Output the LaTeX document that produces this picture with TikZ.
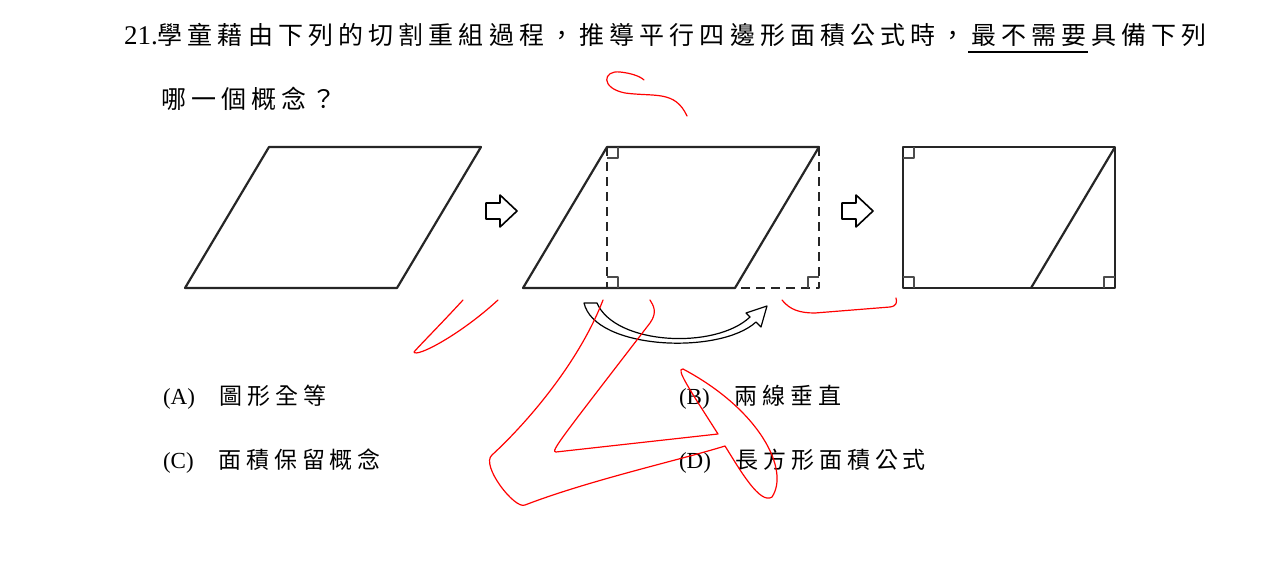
\documentclass[tikz,border=0pt]{standalone}
\usepackage{fontspec}
\setmainfont{Liberation Serif}
\newfontfamily\cjk[LetterSpace=20.5]{Noto Sans CJK TC}
\newfontfamily\cjkopt[LetterSpace=21]{Noto Sans CJK TC}
\begin{document}
\begin{tikzpicture}[x=1pt,y=-1pt,line width=2pt,line join=round]

\tikzset{
  shape line/.style={draw=black!85, line width=2.2pt},
  cut line/.style={draw=black!85, line width=2pt, dash pattern=on 9pt off 6pt},
  angle mark/.style={draw=black!70, line width=1.3pt},
  step arrow/.style={draw=black, line width=1.6pt, fill=white},
  scribble/.style={draw=red, line width=1.2pt, line cap=round},
  qtext/.style={anchor=west, font=\fontsize{25}{25}\selectfont, inner sep=0pt},
  otext/.style={anchor=west, font=\fontsize{23}{23}\selectfont, inner sep=0pt}
}

\useasboundingbox (0,0) rectangle (1274,575);

%% question
\node[qtext] (q1) at (123,35) {{\fontsize{27}{27}\selectfont 21.}{\cjk 學童藉由下列的切割重組過程，推導平行四邊形面積公式時，最不需要具備下列}};
\draw[line width=1.3pt] (968,52) -- (1088,52);
\node[qtext] (q2) at (160,99) {\cjk 哪一個概念？};

%% figure 1
\draw[shape line] (185,288) -- (397,288) -- (481,147) -- (269,147) -- cycle;
\draw[step arrow] (486,203) -- (500,203) -- (500,195) -- (517,211) -- (500,227) -- (500,219) -- (486,219) -- cycle;

%% figure 2
\draw[cut line] (607,147) -- (607,288);
\draw[cut line] (819,147) -- (819,288) -- (735,288);
\draw[shape line] (523,288) -- (735,288) -- (819,147) -- (607,147) -- cycle;
\draw[angle mark] (607,158) -| (618,147);
\draw[angle mark] (607,277) -| (618,288);
\draw[angle mark] (819,277) -| (808,288);
\draw[step arrow] (842,203) -- (856,203) -- (856,195) -- (873,211) -- (856,227) -- (856,219) -- (842,219) -- cycle;

%% moving piece
\draw[draw=black, line width=1.2pt, fill=white]
  (584,303) -- (597,303) .. controls (615,345) and (715,350) .. (750,317)
  -- (746,313) -- (767,306) -- (761,327) -- (756,322)
  .. controls (720,355) and (595,350) .. cycle;

%% figure 3
\draw[shape line] (903,147) rectangle (1115,288);
\draw[shape line] (1031,288) -- (1115,147);
\draw[angle mark] (903,158) -| (914,147);
\draw[angle mark] (903,277) -| (914,288);
\draw[angle mark] (1115,277) -| (1104,288);

%% options
\node[otext] (oa) at (162,397) {(A)\hspace{25pt}{\cjkopt 圖形全等}};
\node[otext] (ob) at (678,397) {(B)\hspace{25pt}{\cjkopt 兩線垂直}};
\node[otext] (oc) at (162,461) {(C)\hspace{25pt}{\cjkopt 面積保留概念}};
\node[otext] (od) at (678,461) {(D)\hspace{25pt}{\cjkopt 長方形面積公式}};

%% red ink
\draw[scribble] (687,116) .. controls (675,90) and (655,97) .. (625,93)
  .. controls (600,88) and (603,70) .. (620,72) .. controls (630,73) and (640,76) .. (644,80);
\draw[scribble] (463,300) .. controls (440,325) and (420,345) .. (414,352)
  .. controls (416,358) and (460,335) .. (498,300);
\draw[scribble] (603,300) .. controls (580,360) and (530,420) .. (492,455)
  .. controls (480,465) and (515,510) .. (525,505)
  .. controls (590,480) and (680,460) .. (725,446)
  .. controls (740,470) and (760,505) .. (772,497)
  .. controls (790,470) and (760,410) .. (683,369)
  .. controls (675,368) and (690,390) .. (718,434)
  -- (556,452) .. controls (550,452) and (560,440) .. (650,323)
  .. controls (658,312) and (653,305) .. (650,300);
\draw[scribble] (782,300) .. controls (790,310) and (800,313) .. (815,313)
  -- (890,307) .. controls (897,306) and (897,302) .. (896,298);

\end{tikzpicture}
\end{document}
